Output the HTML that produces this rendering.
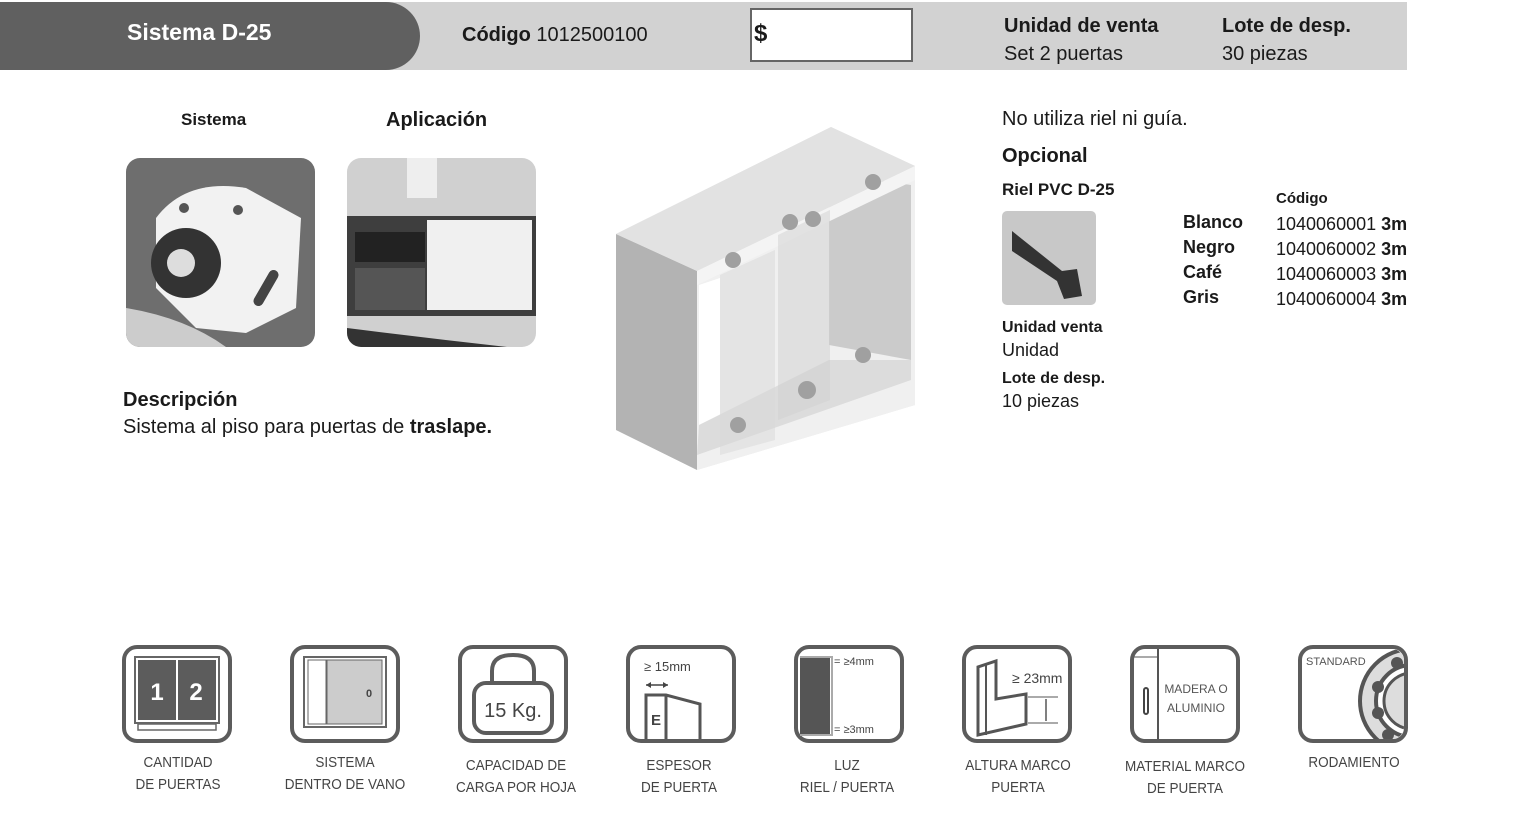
<!DOCTYPE html>
<html><head><meta charset="utf-8">
<style>
body{margin:0;width:1533px;height:820px;background:#fff;position:relative;overflow:hidden;font-family:"Liberation Sans",sans-serif;color:#1a1a1a}
.a{position:absolute;white-space:nowrap}
.b{font-weight:bold}
.ic{position:absolute;top:645px;width:102px;height:90px;border:4px solid #5c5c5c;border-radius:15px;box-sizing:content-box}
.lab{position:absolute;top:752px;width:170px;text-align:center;font-size:15px;line-height:22px;color:#444;font-family:"Liberation Sans Narrow","Liberation Sans",sans-serif;transform:scaleX(.9)}
</style></head><body>
<div class="a" style="left:0;top:2px;width:1407px;height:68px;background:#d2d2d2"></div>
<div class="a" style="left:0;top:2px;width:420px;height:68px;background:#606060;border-radius:0 40px 40px 0"></div>
<div class="a b" style="left:127px;top:19px;font-size:23px;color:#fff">Sistema D-25</div>
<div class="a" style="left:462px;top:24px;font-size:20px"><b>Código</b> 1012500100</div>
<div class="a" style="left:750px;top:8px;width:159px;height:50px;background:#fff;border:2px solid #666"></div>
<div class="a b" style="left:754px;top:20px;font-size:24px">$</div>
<div class="a" style="left:1004px;top:12px;font-size:20px;line-height:28px"><b>Unidad de venta</b><br>Set 2 puertas</div>
<div class="a" style="left:1222px;top:12px;font-size:20px;line-height:28px"><b>Lote de desp.</b><br>30 piezas</div>

<div class="a b" style="left:181px;top:110px;font-size:17px">Sistema</div>
<div class="a b" style="left:386px;top:109px;font-size:20px">Aplicación</div>
<svg class="a" style="left:126px;top:158px" width="189" height="189"><defs><clipPath id="c1"><rect width="189" height="189" rx="14"/></clipPath></defs><g clip-path="url(#c1)"><rect width="189" height="189" fill="#6e6e6e"/><path d="M30 60 Q60 20 120 30 L175 60 L170 150 L120 175 L70 170 L30 130Z" fill="#f2f2f2"/><circle cx="60" cy="105" r="35" fill="#333"/><circle cx="55" cy="105" r="14" fill="#ddd"/><circle cx="58" cy="50" r="5" fill="#555"/><circle cx="112" cy="52" r="5" fill="#555"/><rect x="135" y="110" width="10" height="40" rx="5" transform="rotate(30 140 130)" fill="#444"/><path d="M0 150 Q60 160 100 189 L0 189Z" fill="#ccc"/></g></svg>
<svg class="a" style="left:347px;top:158px" width="189" height="189"><defs><clipPath id="c2"><rect width="189" height="189" rx="14"/></clipPath></defs><g clip-path="url(#c2)"><rect width="189" height="189" fill="#d0d0d0"/><rect x="0" y="58" width="189" height="100" fill="#3e3e3e"/><rect x="8" y="74" width="70" height="30" fill="#222"/><rect x="80" y="62" width="105" height="90" fill="#f0f0f0"/><rect x="8" y="110" width="70" height="42" fill="#555"/><rect x="60" y="0" width="30" height="40" fill="#eee"/><path d="M0 170 Q80 180 160 189 L0 189Z" fill="#333"/></g></svg>

<div class="a b" style="left:123px;top:389px;font-size:20px">Descripción</div>
<div class="a" style="left:123px;top:416px;font-size:20px">Sistema al piso para puertas de <b>traslape.</b></div>

<svg class="a" style="left:600px;top:110px" width="330" height="370">
<polygon points="16,124 231,17 315,56 315,295 97,360 16,320" fill="#e8e8e8"/>
<polygon points="97,161 315,56 315,295 97,360" fill="#f0f0f0"/>
<polygon points="229,63 311,75 311,250 229,235" fill="#cbcbcb"/>
<polygon points="99,175 120,168 120,305 99,315" fill="#fff"/>
<polygon points="99,315 229,250 311,250 311,270 97,345" fill="#dcdcdc"/>
<polygon points="16,124 97,161 97,360 16,320" fill="#b3b3b3"/>
<polygon points="16,124 231,17 315,56 97,161" fill="#e2e2e2"/>
<polygon points="97,161 315,56 315,70 97,175" fill="#f4f4f4"/>
<polygon points="120,165 175,140 175,330 120,345" fill="#d8d8d8" opacity=".5"/>
<polygon points="178,125 230,100 230,290 178,310" fill="#d0d0d0" opacity=".5"/>
<g fill="#a0a0a0"><circle cx="133" cy="150" r="8"/><circle cx="190" cy="112" r="8"/><circle cx="213" cy="109" r="8"/><circle cx="273" cy="72" r="8"/><circle cx="138" cy="315" r="8"/><circle cx="207" cy="280" r="9"/><circle cx="263" cy="245" r="8"/></g>
</svg>

<div class="a" style="left:1002px;top:108px;font-size:20px">No utiliza riel ni guía.</div>
<div class="a b" style="left:1002px;top:145px;font-size:20px">Opcional</div>
<div class="a b" style="left:1002px;top:180px;font-size:17px">Riel PVC D-25</div>
<svg class="a" style="left:1002px;top:211px" width="94" height="94"><rect width="94" height="94" rx="5" fill="#c8c8c8"/><path d="M10 20 L60 60 L75 58 L80 85 L62 88 L55 70 L10 40Z" fill="#333"/></svg>
<div class="a" style="left:1002px;top:316px;font-size:16px;line-height:23px"><b>Unidad venta</b><br><span style="font-size:18px">Unidad</span></div>
<div class="a" style="left:1002px;top:367px;font-size:16px;line-height:23px"><b>Lote de desp.</b><br><span style="font-size:18px">10 piezas</span></div>
<div class="a b" style="left:1276px;top:190px;font-size:15px">Código</div>
<div class="a b" style="left:1183px;top:210px;font-size:18px;line-height:25px">Blanco<br>Negro<br>Café<br>Gris</div>
<div class="a" style="left:1276px;top:212px;font-size:18px;line-height:25px">1040060001 <b>3m</b><br>1040060002 <b>3m</b><br>1040060003 <b>3m</b><br>1040060004 <b>3m</b></div>

<div class="ic" style="left:122px"><svg width="102" height="90"><rect x="9" y="8" width="84" height="66" fill="none" stroke="#666" stroke-width="2"/><rect x="12" y="11" width="78" height="60" fill="#5c5c5c"/><line x1="51" y1="11" x2="51" y2="71" stroke="#fff" stroke-width="2"/><rect x="12" y="75" width="78" height="6" fill="none" stroke="#666" stroke-width="1.5"/><text x="31" y="51" font-size="24" font-weight="bold" fill="#fff" text-anchor="middle" font-family="Liberation Sans">1</text><text x="70" y="51" font-size="24" font-weight="bold" fill="#fff" text-anchor="middle" font-family="Liberation Sans">2</text></svg></div>
<div class="ic" style="left:290px"><svg width="102" height="90"><rect x="10" y="8" width="82" height="70" fill="none" stroke="#666" stroke-width="2"/><rect x="14" y="11" width="18" height="64" fill="#fff" stroke="#666"/><rect x="33" y="11" width="55" height="64" fill="#ccc" stroke="#666"/><text x="72" y="48" font-size="11" font-weight="bold" fill="#444">0</text></svg></div>
<div class="ic" style="left:458px"><svg width="102" height="90"><path d="M30 36 V22 Q30 6 51 6 Q72 6 72 22 V36" fill="none" stroke="#5c5c5c" stroke-width="4"/><rect x="12" y="34" width="78" height="50" rx="12" fill="none" stroke="#5c5c5c" stroke-width="4"/><text x="51" y="68" font-size="20" fill="#444" text-anchor="middle" font-family="Liberation Sans">15 Kg.</text></svg></div>
<div class="ic" style="left:626px"><svg width="102" height="90"><text x="14" y="22" font-size="13" fill="#444" font-family="Liberation Sans">≥ 15mm</text><path d="M16 36 H38" stroke="#444" stroke-width="1.5"/><path d="M16 36 l5 -3 v6z M38 36 l-5 -3 v6z" fill="#444"/><path d="M16 92 V46 H36 L70 55 V92" fill="none" stroke="#555" stroke-width="3"/><line x1="36" y1="46" x2="36" y2="92" stroke="#555" stroke-width="3"/><text x="21" y="76" font-size="15" font-weight="bold" fill="#444" font-family="Liberation Sans">E</text></svg></div>
<div class="ic" style="left:794px"><svg width="102" height="90"><rect x="2" y="8" width="30" height="78" fill="#555"/><path d="M2 8 H34 V86 H2" fill="none" stroke="#aaa" stroke-width="2"/><text x="36" y="16" font-size="11" fill="#444" font-family="Liberation Sans">= ≥4mm</text><text x="36" y="84" font-size="11" fill="#444" font-family="Liberation Sans">= ≥3mm</text></svg></div>
<div class="ic" style="left:962px"><svg width="102" height="90"><path d="M12 86 V18 L30 12 V50 L60 45 V75 Z" fill="none" stroke="#555" stroke-width="3"/><line x1="20" y1="16" x2="20" y2="86" stroke="#555" stroke-width="2"/><text x="46" y="34" font-size="14" fill="#444" font-family="Liberation Sans">≥ 23mm</text><line x1="62" y1="48" x2="92" y2="48" stroke="#555"/><line x1="62" y1="74" x2="92" y2="74" stroke="#555"/><line x1="80" y1="50" x2="80" y2="72" stroke="#555" stroke-width="1.5"/></svg></div>
<div class="ic" style="left:1130px"><svg width="102" height="90"><line x1="24" y1="0" x2="24" y2="90" stroke="#555" stroke-width="2"/><line x1="0" y1="8" x2="24" y2="8" stroke="#555"/><rect x="10" y="39" width="4" height="26" rx="2" fill="none" stroke="#444" stroke-width="2"/><text x="62" y="44" font-size="12" fill="#555" text-anchor="middle" font-family="Liberation Sans">MADERA O</text><text x="62" y="63" font-size="12" fill="#555" text-anchor="middle" font-family="Liberation Sans">ALUMINIO</text></svg></div>
<div class="ic" style="left:1298px"><svg width="102" height="90"><defs><clipPath id="c3"><rect width="102" height="90" rx="12"/></clipPath></defs><g clip-path="url(#c3)"><circle cx="110" cy="52" r="52" fill="#ddd" stroke="#555" stroke-width="4"/><circle cx="110" cy="52" r="36" fill="#fff" stroke="#555" stroke-width="4"/><circle cx="110" cy="52" r="28" fill="#ddd" stroke="#555" stroke-width="3"/><g fill="#555"><circle cx="76" cy="38" r="6"/><circle cx="76" cy="64" r="6"/><circle cx="86" cy="86" r="6"/><circle cx="95" cy="14" r="6"/></g></g><text x="4" y="16" font-size="11" fill="#555" font-family="Liberation Sans">STANDARD</text></svg></div>

<div class="lab" style="left:93px">CANTIDAD<br>DE PUERTAS</div>
<div class="lab" style="left:260px">SISTEMA<br>DENTRO DE VANO</div>
<div class="lab" style="left:431px;top:755px">CAPACIDAD DE<br>CARGA POR HOJA</div>
<div class="lab" style="left:594px;top:755px">ESPESOR<br>DE PUERTA</div>
<div class="lab" style="left:762px;top:755px">LUZ<br>RIEL / PUERTA</div>
<div class="lab" style="left:933px;top:755px">ALTURA MARCO<br>PUERTA</div>
<div class="lab" style="left:1100px;top:756px">MATERIAL MARCO<br>DE PUERTA</div>
<div class="lab" style="left:1269px">RODAMIENTO</div>
</body></html>
